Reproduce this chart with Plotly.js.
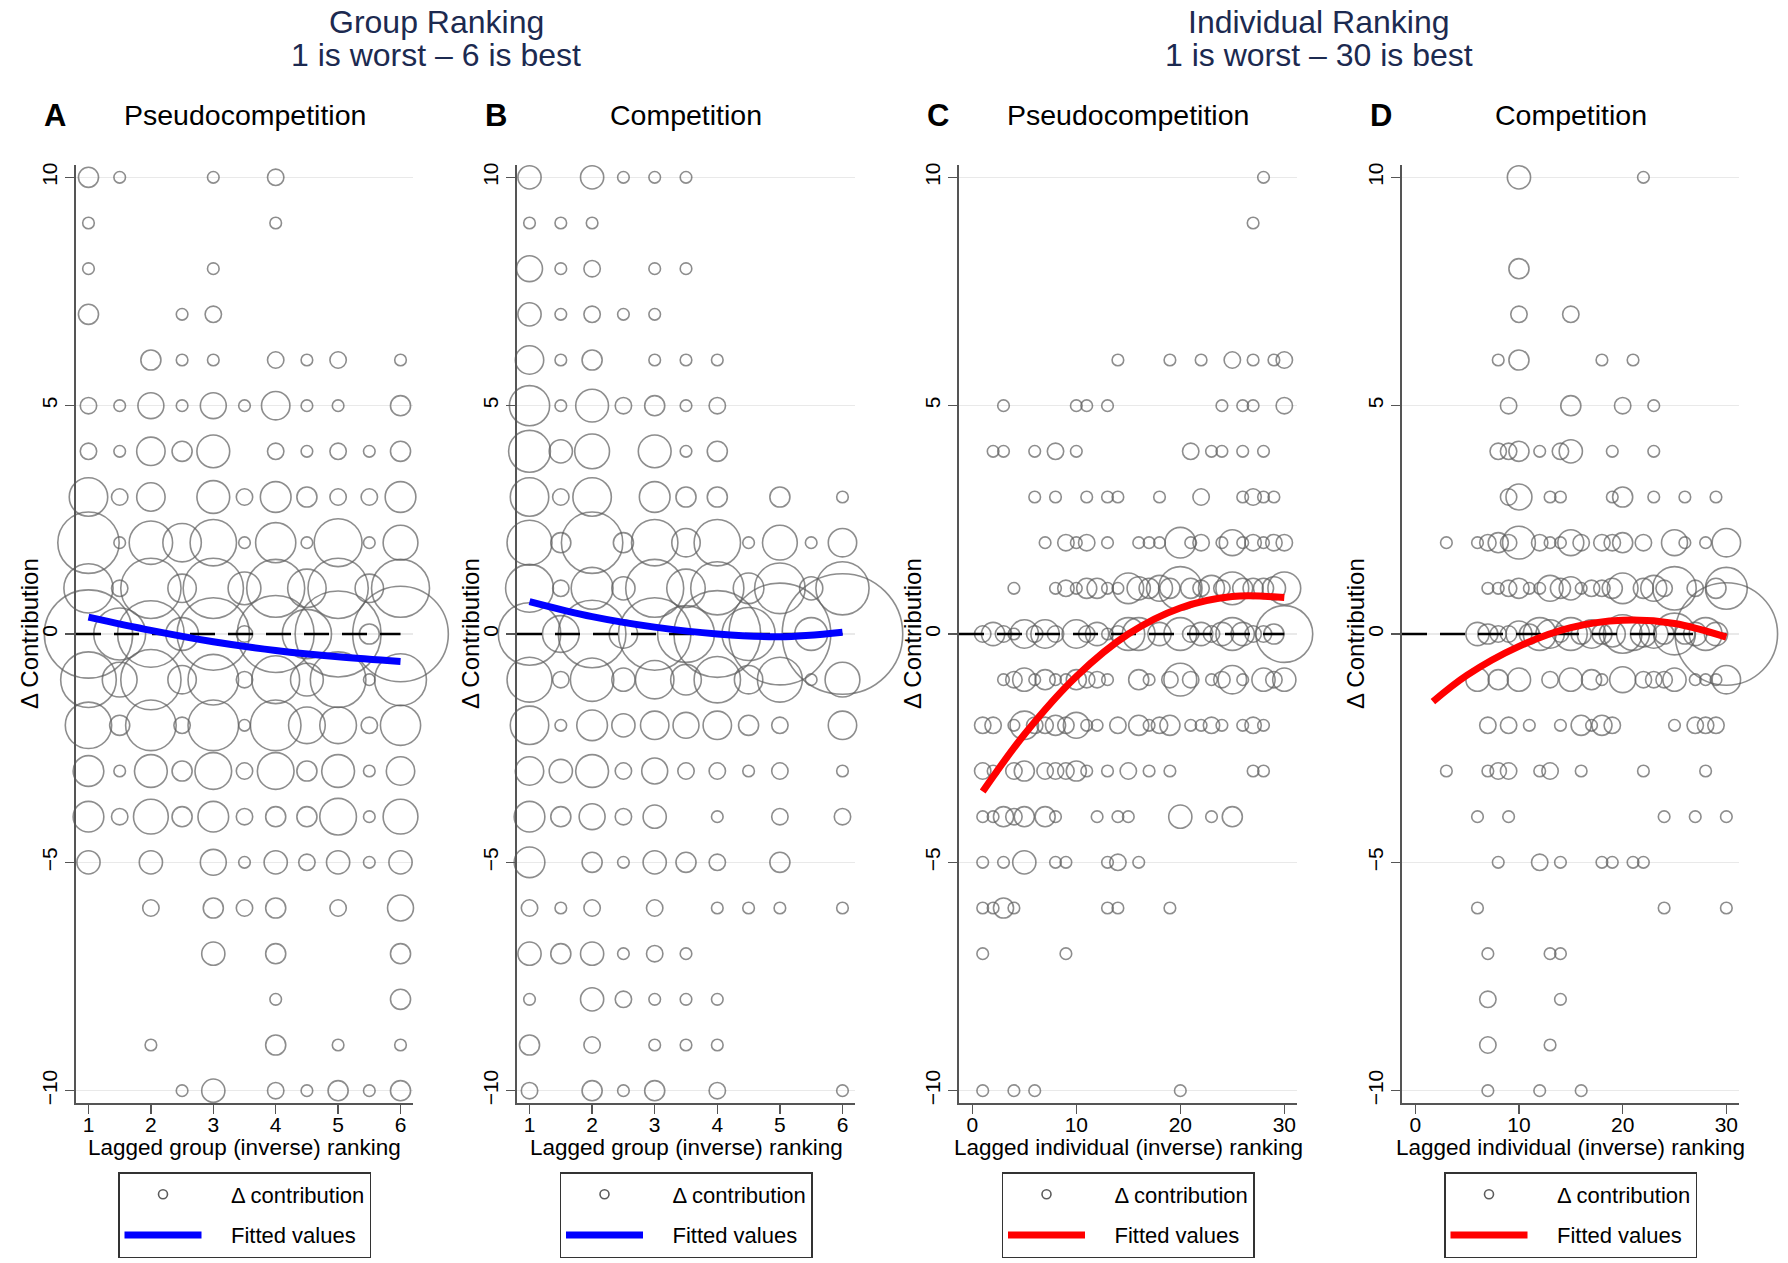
<!DOCTYPE html>
<html>
<head>
<meta charset="utf-8">
<script src="https://cdn.plot.ly/plotly-3.0.1.min.js"></script>
<style>
  body { margin: 0; background: #fff; }
  #chart { width: 1788px; height: 1263px; }
</style>
</head>
<body>
<div id="chart"></div>
<script>
// change in contribution, one row of points per level (top to bottom)
var levels = [10, 9, 8, 7, 6, 5, 4, 3, 2, 1, 0, -1, -2, -3, -4, -5, -6, -7, -8, -9, -10];

// A: group ranking, pseudocompetition -- lagged rank and number of obs per level
var groupPseudoX = [
  [1, 1.5, 3, 4],
  [1, 4],
  [1, 3],
  [1, 2.5, 3],
  [2, 2.5, 3, 4, 4.5, 5, 6],
  [1, 1.5, 2, 2.5, 3, 3.5, 4, 4.5, 5, 6],
  [1, 1.5, 2, 2.5, 3, 4, 4.5, 5, 5.5, 6],
  [1, 1.5, 2, 3, 3.5, 4, 4.5, 5, 5.5, 6],
  [1, 1.5, 2, 2.5, 3, 3.5, 4, 4.5, 5, 5.5, 6],
  [1, 1.5, 2, 2.5, 3, 3.5, 4, 4.5, 5, 5.5, 6],
  [1, 1.5, 2, 2.5, 3, 3.5, 4, 4.5, 5, 5.5, 6],
  [1, 1.5, 2, 2.5, 3, 3.5, 4, 4.5, 5, 5.5, 6],
  [1, 1.5, 2, 2.5, 3, 3.5, 4, 4.5, 5, 5.5, 6],
  [1, 1.5, 2, 2.5, 3, 3.5, 4, 4.5, 5, 5.5, 6],
  [1, 1.5, 2, 2.5, 3, 3.5, 4, 4.5, 5, 5.5, 6],
  [1, 2, 3, 3.5, 4, 4.5, 5, 5.5, 6],
  [2, 3, 3.5, 4, 5, 6],
  [3, 4, 6],
  [4, 6],
  [2, 4, 5, 6],
  [2.5, 3, 4, 4.5, 5, 5.5, 6]
];
var groupPseudoN = [
  [3, 1, 1, 2],
  [1, 1],
  [1, 1],
  [3, 1, 2],
  [3, 1, 1, 2, 1, 2, 1],
  [2, 1, 5, 1, 5, 1, 6, 1, 1, 3],
  [2, 1, 6, 3, 8, 2, 1, 2, 1, 3],
  [11, 2, 6, 8, 2, 7, 3, 2, 2, 7],
  [28, 1, 14, 11, 16, 1, 12, 1, 17, 1, 9],
  [18, 2, 27, 6, 27, 8, 25, 11, 27, 6, 25],
  [58, 20, 33, 8, 39, 2, 44, 18, 55, 3, 68],
  [23, 9, 27, 6, 19, 2, 17, 8, 23, 1, 20],
  [16, 3, 19, 2, 19, 1, 19, 10, 10, 2, 12],
  [7, 1, 8, 3, 10, 2, 10, 3, 8, 1, 6],
  [7, 2, 9, 3, 7, 2, 3, 3, 10, 1, 9],
  [4, 4, 5, 1, 4, 2, 4, 1, 4],
  [2, 3, 2, 3, 2, 5],
  [4, 3, 3],
  [1, 3],
  [1, 3, 1, 1],
  [1, 4, 2, 1, 3, 1, 3]
];

// B: group ranking, competition
var groupCompX = [
  [1, 2, 2.5, 3, 3.5],
  [1, 1.5, 2],
  [1, 1.5, 2, 3, 3.5],
  [1, 1.5, 2, 2.5, 3],
  [1, 1.5, 2, 3, 3.5, 4],
  [1, 1.5, 2, 2.5, 3, 3.5, 4],
  [1, 1.5, 2, 3, 3.5, 4],
  [1, 1.5, 2, 3, 3.5, 4, 5, 6],
  [1, 1.5, 2, 2.5, 3, 3.5, 4, 4.5, 5, 5.5, 6],
  [1, 1.5, 2, 2.5, 3, 3.5, 4, 4.5, 5, 5.5, 6],
  [1, 1.5, 2, 2.5, 3, 3.5, 4, 4.5, 5, 5.5, 6],
  [1, 1.5, 2, 2.5, 3, 3.5, 4, 4.5, 5, 5.5, 6],
  [1, 1.5, 2, 2.5, 3, 3.5, 4, 4.5, 5, 6],
  [1, 1.5, 2, 2.5, 3, 3.5, 4, 4.5, 5, 6],
  [1, 1.5, 2, 2.5, 3, 4, 5, 6],
  [1, 2, 2.5, 3, 3.5, 4, 5],
  [1, 1.5, 2, 3, 4, 4.5, 5, 6],
  [1, 1.5, 2, 2.5, 3, 3.5],
  [1, 2, 2.5, 3, 3.5, 4],
  [1, 2, 3, 3.5, 4],
  [1, 2, 2.5, 3, 4, 6]
];
var groupCompN = [
  [4, 4, 1, 1, 1],
  [1, 1, 1],
  [5, 1, 2, 1, 1],
  [4, 1, 2, 1, 1],
  [6, 1, 3, 1, 1, 1],
  [12, 1, 8, 2, 3, 1, 2],
  [13, 4, 9, 8, 1, 3],
  [11, 2, 11, 7, 3, 3, 3, 1],
  [15, 3, 28, 3, 16, 6, 16, 1, 9, 1, 6],
  [17, 2, 13, 4, 25, 11, 21, 7, 19, 4, 21],
  [29, 10, 34, 6, 39, 24, 56, 21, 77, 8, 108],
  [15, 2, 14, 4, 11, 7, 16, 6, 15, 1, 9],
  [11, 1, 7, 4, 6, 5, 6, 3, 2, 6],
  [6, 4, 8, 2, 5, 2, 2, 1, 2, 1],
  [7, 3, 5, 2, 4, 1, 2, 2],
  [7, 3, 1, 4, 3, 2, 3],
  [2, 1, 2, 2, 1, 1, 1, 1],
  [4, 3, 4, 1, 2, 1],
  [1, 4, 2, 1, 1, 1],
  [3, 2, 1, 1, 1],
  [2, 3, 1, 3, 2, 1]
];

// C: individual ranking, pseudocompetition
var indivPseudoX = [
  [28],
  [27],
  [],
  [],
  [14, 19, 22, 25, 27, 29, 30],
  [3, 10, 11, 13, 24, 26, 27, 30],
  [2, 3, 6, 8, 10, 21, 23, 24, 26, 28],
  [6, 8, 11, 13, 14, 18, 22, 26, 27, 28, 29],
  [7, 9, 10, 11, 13, 16, 17, 18, 20, 21, 22, 24, 25, 26, 27, 28, 29, 30],
  [4, 8, 9, 10, 11, 12, 13, 14, 15, 16, 17, 18, 19, 20, 21, 22, 23, 24, 25, 26, 27, 28, 29, 30],
  [1, 2, 3, 4, 5, 6, 7, 8, 10, 11, 12, 13, 14, 15, 16, 18, 20, 21, 22, 23, 24, 25, 26, 27, 28, 29, 30],
  [3, 4, 5, 6, 7, 8, 9, 10, 11, 12, 13, 16, 17, 19, 20, 21, 23, 24, 25, 26, 28, 29, 30],
  [1, 2, 4, 5, 6, 7, 8, 9, 10, 11, 12, 14, 16, 17, 18, 19, 21, 22, 23, 24, 26, 27, 28],
  [1, 2, 4, 5, 7, 8, 9, 10, 11, 13, 15, 17, 19, 27, 28],
  [1, 2, 3, 4, 5, 7, 8, 12, 14, 15, 20, 23, 25],
  [1, 3, 5, 8, 9, 13, 14, 16],
  [1, 2, 3, 4, 13, 14, 19],
  [1, 9],
  [],
  [],
  [1, 4, 6, 20]
];
var indivPseudoN = [
  [1],
  [1],
  [],
  [],
  [1, 1, 1, 2, 1, 1, 2],
  [1, 1, 1, 1, 1, 1, 1, 2],
  [1, 1, 1, 2, 1, 2, 1, 1, 1, 1],
  [1, 1, 1, 1, 1, 1, 2, 1, 2, 1, 1],
  [1, 2, 1, 2, 1, 1, 1, 1, 7, 1, 2, 1, 5, 1, 2, 1, 2, 2],
  [1, 1, 2, 1, 3, 3, 1, 1, 7, 4, 3, 5, 3, 14, 3, 2, 5, 2, 8, 3, 3, 3, 4, 8],
  [2, 4, 2, 1, 6, 2, 6, 2, 6, 2, 4, 1, 2, 8, 8, 4, 8, 2, 4, 2, 4, 8, 4, 2, 2, 3, 24],
  [1, 2, 4, 1, 3, 1, 1, 3, 2, 2, 1, 3, 1, 2, 8, 2, 1, 2, 6, 1, 4, 2, 4],
  [2, 2, 1, 6, 2, 2, 3, 2, 5, 1, 1, 2, 3, 1, 2, 3, 1, 1, 2, 1, 1, 2, 1],
  [2, 1, 2, 3, 2, 2, 2, 3, 1, 1, 2, 1, 1, 1, 1],
  [1, 1, 3, 2, 3, 3, 1, 1, 1, 1, 4, 1, 3],
  [1, 1, 4, 1, 1, 1, 2, 1],
  [1, 1, 3, 1, 1, 1, 1],
  [1, 1],
  [],
  [],
  [1, 1, 1, 1]
];

// D: individual ranking, competition
var indivCompX = [
  [10, 22],
  [],
  [10],
  [10, 15],
  [8, 10, 18, 21],
  [9, 15, 20, 23],
  [8, 9, 10, 12, 14, 15, 19, 23],
  [9, 10, 13, 14, 19, 20, 23, 26, 29],
  [3, 6, 7, 8, 9, 10, 12, 13, 14, 15, 16, 18, 19, 20, 22, 25, 26, 28, 30],
  [7, 8, 9, 10, 11, 12, 13, 14, 15, 16, 17, 18, 19, 20, 22, 23, 24, 25, 27, 29, 30],
  [6, 7, 8, 9, 10, 11, 12, 13, 14, 15, 16, 17, 18, 19, 20, 21, 22, 23, 24, 25, 26, 27, 28, 29, 30],
  [6, 8, 10, 13, 15, 17, 18, 20, 22, 23, 24, 25, 27, 28, 29, 30],
  [7, 9, 11, 14, 16, 17, 18, 19, 25, 27, 28, 29],
  [3, 7, 8, 9, 12, 13, 16, 22, 28],
  [6, 9, 24, 27, 30],
  [8, 12, 14, 18, 19, 21, 22],
  [6, 24, 30],
  [7, 13, 14],
  [7, 14],
  [7, 13],
  [7, 12, 16]
];
var indivCompN = [
  [4, 1],
  [],
  [3],
  [2, 2],
  [1, 3, 1, 1],
  [2, 3, 2, 1],
  [2, 2, 3, 1, 2, 4, 1, 1],
  [2, 5, 1, 1, 1, 3, 1, 1, 1],
  [1, 1, 2, 3, 2, 8, 2, 1, 1, 5, 2, 2, 2, 3, 2, 5, 1, 1, 6],
  [1, 1, 2, 3, 1, 1, 5, 3, 4, 1, 2, 2, 3, 7, 3, 5, 2, 14, 2, 3, 13],
  [4, 3, 2, 2, 5, 3, 8, 6, 2, 8, 3, 6, 3, 5, 11, 8, 5, 6, 3, 13, 3, 4, 8, 4, 78],
  [4, 3, 4, 2, 4, 3, 1, 5, 2, 2, 2, 4, 1, 1, 1, 6],
  [2, 2, 1, 1, 3, 1, 3, 2, 1, 2, 2, 2],
  [1, 1, 2, 2, 1, 2, 1, 1, 1],
  [1, 1, 1, 1, 1],
  [1, 2, 1, 1, 1, 1, 1],
  [1, 1, 1],
  [1, 1, 1],
  [2, 1],
  [2, 1],
  [1, 1, 1]
];

// fitted values
var fitGroupX = [1, 2, 3, 4, 5, 6];
var fitGroupPseudo = [0.37, 0.08, -0.17, -0.36, -0.5, -0.6];
var fitGroupComp = [0.71, 0.38, 0.15, 0.0, -0.06, 0.04];
var fitIndivPseudoX = [1, 5, 10, 15, 20, 25, 30];
var fitIndivPseudo = [-3.45, -2.2, -0.93, 0.0, 0.57, 0.82, 0.8];
var fitIndivCompX = [1.7, 5, 10, 15, 20, 25, 30];
var fitIndivComp = [-1.48, -0.9, -0.27, 0.14, 0.3, 0.23, -0.07];

var yTicks = [-10, -5, 0, 5, 10];
var groupTicks = [1, 2, 3, 4, 5, 6];
var indivTicks = [0, 10, 20, 30];

var W = 1788, H = 1263;
var FONT = 'Liberation Sans, Arial, Helvetica, sans-serif';
var NB = '\u00a0\u00a0\u00a0\u00a0';   // gap between legend key and label
function px(x) { return x / W; }
function py(y) { return 1 - y / H; }

function flatten(xRows, nRows) {
  var x = [], y = [], n = [];
  levels.forEach(function (lv, i) {
    xRows[i].forEach(function (v, j) {
      x.push(v); y.push(lv); n.push(nRows[i][j]);
    });
  });
  return { x: x, y: y, n: n };
}

var panels = [
  { key: '', xr: groupPseudoX, nr: groupPseudoN, fx: fitGroupX, fy: fitGroupPseudo, color: '#0000ff',
    left: 76, right: 413, range: [0.8, 6.2], ticks: groupTicks, xtitle: 'Lagged group (inverse) ranking',
    letter: 'A', sub: 'Pseudocompetition' },
  { key: '2', xr: groupCompX, nr: groupCompN, fx: fitGroupX, fy: fitGroupComp, color: '#0000ff',
    left: 517, right: 855, range: [0.8, 6.2], ticks: groupTicks, xtitle: 'Lagged group (inverse) ranking',
    letter: 'B', sub: 'Competition' },
  { key: '3', xr: indivPseudoX, nr: indivPseudoN, fx: fitIndivPseudoX, fy: fitIndivPseudo, color: '#ff0000',
    left: 959, right: 1297, range: [-1.28, 31.22], ticks: indivTicks, xtitle: 'Lagged individual (inverse) ranking',
    letter: 'C', sub: 'Pseudocompetition' },
  { key: '4', xr: indivCompX, nr: indivCompN, fx: fitIndivCompX, fy: fitIndivComp, color: '#ff0000',
    left: 1402, right: 1739, range: [-1.28, 31.22], ticks: indivTicks, xtitle: 'Lagged individual (inverse) ranking',
    letter: 'D', sub: 'Competition' }
];

var data = [];
var layout = {
  width: W, height: H,
  margin: { l: 0, r: 0, t: 0, b: 0, autoexpand: false },
  paper_bgcolor: '#fff', plot_bgcolor: '#fff',
  font: { family: FONT, color: '#000' },
  showlegend: true,
  hovermode: false,
  annotations: []
};

function note(x, y, text, size, extra) {
  var a = {
    xref: 'paper', yref: 'paper', x: px(x), y: py(y), xanchor: 'center', yanchor: 'middle',
    showarrow: false, text: text, font: { family: FONT, size: size, color: '#000' }
  };
  for (var k in extra) a[k] = extra[k];
  layout.annotations.push(a);
}

panels.forEach(function (p) {
  var xa = 'x' + p.key, ya = 'y' + p.key;
  var lg = 'legend' + p.key;
  var pts = flatten(p.xr, p.nr);
  var maxX = Math.max.apply(null, p.ticks.concat(pts.x));

  data.push({
    type: 'scatter', mode: 'markers', x: pts.x, y: pts.y, xaxis: xa, yaxis: ya,
    showlegend: false, cliponaxis: false, legend: lg,
    marker: { symbol: 'circle-open', color: '#5c5c5c', size: pts.n,
      sizemode: 'area', sizeref: 1 / (8.2 * 8.2), line: { width: 1.6 } }
  });
  // y = 0 reference line
  data.push({
    type: 'scatter', mode: 'lines', x: [p.range[0], maxX], y: [0, 0], xaxis: xa, yaxis: ya,
    showlegend: false, legend: lg,
    line: { color: '#000', width: 2.6, dash: '25px,13px' }
  });
  // legend entry for the bubbles
  data.push({
    type: 'scatter', mode: 'markers', x: [null], y: [null], xaxis: xa, yaxis: ya,
    name: NB + 'Δ contribution', legend: lg, legendgroup: 'pts',
    marker: { symbol: 'circle-open', color: '#5c5c5c', size: 9, line: { width: 1.6 } }
  });
  data.push({
    type: 'scatter', mode: 'lines', x: p.fx, y: p.fy, xaxis: xa, yaxis: ya,
    name: NB + 'Fitted values', legend: lg, legendgroup: 'fit', cliponaxis: false,
    line: { color: p.color, width: 7, shape: 'spline' }
  });

  var dom = [px(p.left), px(p.right)];
  var mid = (p.left + p.right) / 2;
  layout['xaxis' + p.key] = {
    domain: dom, range: p.range, anchor: ya, tickvals: p.ticks,
    ticks: 'outside', ticklen: 9, tickwidth: 1.5, tickcolor: '#555',
    showline: true, linecolor: '#555', linewidth: 1.6, ticklabelstandoff: -7,
    showgrid: false, zeroline: false, automargin: false,
    tickfont: { size: 21, color: '#000' }
  };
  layout['yaxis' + p.key] = {
    domain: [py(1103), py(165)], range: [-10.27, 10.27], anchor: xa, tickvals: yTicks,
    tickangle: -90, ticks: 'outside', ticklen: 9, tickwidth: 1.5, tickcolor: '#555',
    showline: true, linecolor: '#555', linewidth: 1.6,
    showgrid: true, gridcolor: '#e9e9e9', gridwidth: 1.6, zeroline: false, automargin: false,
    tickfont: { size: 21, color: '#000' }
  };
  layout[lg] = {
    x: px(mid), xanchor: 'center', y: py(1172), yanchor: 'top',
    bordercolor: '#333', borderwidth: 1.5, bgcolor: '#fff',
    font: { family: FONT, size: 22, color: '#000' },
    itemwidth: 77, traceorder: 'grouped', tracegroupgap: 9
  };

  note(p.left - 21, 115, '<b>' + p.letter + '</b>', 31);
  note(mid, 115, p.sub, 28.5);
  note(mid, 1147, p.xtitle, 22.5);
  note(p.left - 47, 634, 'Δ Contribution', 24, { textangle: -90 });
});

// headers over the two pairs of panels
var heads = [
  { x: 436, lines: ['Group Ranking', '1 is worst – 6 is best'] },
  { x: 1319, lines: ['Individual Ranking', '1 is worst – 30 is best'] }
];
heads.forEach(function (h) {
  h.lines.forEach(function (t, i) {
    note(h.x, 22 + 33 * i, t, 32, { font: { family: FONT, size: 32, color: '#1c2a50' } });
  });
});

Plotly.newPlot('chart', data, layout, { staticPlot: true });
</script>
</body>
</html>
